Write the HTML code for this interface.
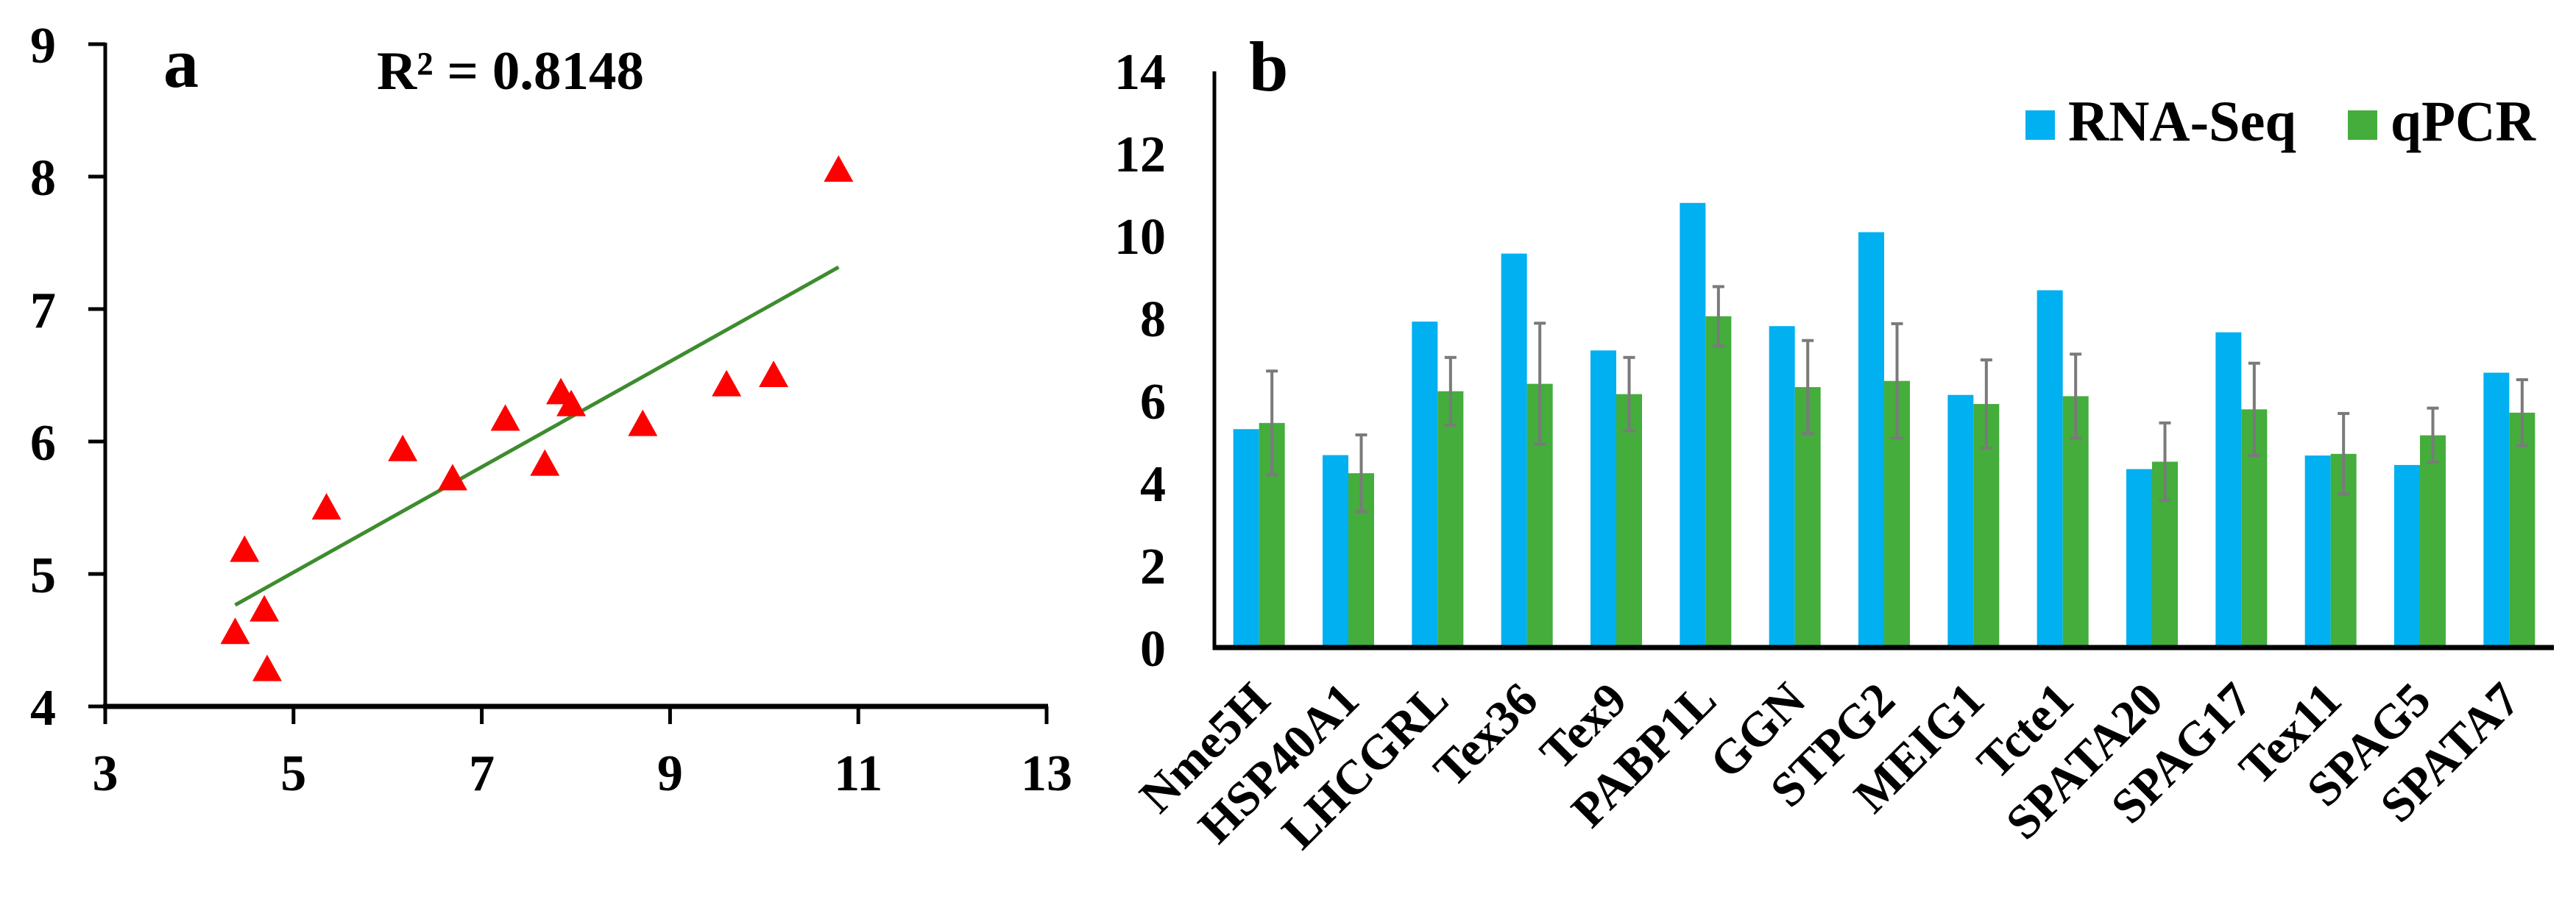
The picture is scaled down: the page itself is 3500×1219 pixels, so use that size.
<!DOCTYPE html>
<html><head><meta charset="utf-8">
<style>
html,body{margin:0;padding:0;background:#fff;}
svg, svg text{font-family:"Liberation Serif","Times New Roman",Times,serif !important;font-weight:bold;}
</style></head>
<body>
<svg id="chart" width="3500" height="1214" viewBox="0 0 3500 1214" xmlns="http://www.w3.org/2000/svg" font-family="Liberation Serif, serif" font-weight="bold">
<rect width="3500" height="1214" fill="#fff"/>
<g id="pa"></g>
<g id="pb"></g>
</svg>
<script>
// ---- Panel a data ----
const scatterX = [10.79, 9.6, 10.1, 8.71, 7.84, 7.95, 7.67, 7.25, 6.69, 6.16, 5.35, 4.48, 4.69, 4.38, 4.72];
const scatterY = [8.05, 6.43, 6.5, 6.13, 6.37, 6.28, 5.83, 6.17, 5.72, 5.94, 5.5, 5.18, 4.73, 4.56, 4.28];
const aXTicks = [3, 5, 7, 9, 11, 13];
const aYTicks = [4, 5, 6, 7, 8, 9];
const r2Label = "R² = 0.8148";
// ---- Panel b data ----
const genes = ["Nme5H","HSP40A1","LHCGRL","Tex36","Tex9","PABP1L","GGN","STPG2","MEIG1","Tcte1","SPATA20","SPAG17","Tex11","SPAG5","SPATA7"];
const rnaSeq = [5.30, 4.67, 7.91, 9.56, 7.21, 10.79, 7.80, 10.08, 6.13, 8.67, 4.33, 7.65, 4.66, 4.43, 6.67];
const qpcr = [5.45, 4.23, 6.22, 6.40, 6.15, 8.04, 6.32, 6.47, 5.91, 6.10, 4.51, 5.78, 4.70, 5.15, 5.70];
const qpcrErr = [1.26, 0.93, 0.82, 1.47, 0.89, 0.72, 1.13, 1.39, 1.07, 1.02, 0.94, 1.12, 0.98, 0.66, 0.80];
const bYTicks = [0, 2, 4, 6, 8, 10, 12, 14];

const NS = "http://www.w3.org/2000/svg";
function mk(parent, tag, attrs, text) {
  const e = document.createElementNS(NS, tag);
  for (const k in attrs) e.setAttribute(k, attrs[k]);
  if (text !== undefined) {
    e.setAttribute('font-family', 'Liberation Serif, serif');
    e.setAttribute('font-weight', 'bold');
    e.textContent = text;
  }
  parent.appendChild(e);
  return e;
}

// ===== Panel a =====
const pa = document.getElementById('pa');
const ax = v => 143 + (v - 3) * (1422 - 143) / 10;
const ay = v => 960 - (v - 4) * 180;
let e;
e = mk(pa, 'line', {x1:143, y1:58, x2:143, y2:963, stroke:'#000', 'stroke-width':5});


e = mk(pa, 'line', {x1:140, y1:960, x2:1424, y2:960, stroke:'#000', 'stroke-width':7});


aYTicks.forEach(t => {
  const y = ay(t);
  e = mk(pa, 'line', {x1:120, y1:y, x2:143, y2:y, stroke:'#000', 'stroke-width':5});
  
  
  e = mk(pa, 'text', {x:76, y:y + 25, 'text-anchor':'end', 'font-size':70}, String(t));
  
  
});
aXTicks.forEach(t => {
  const x = ax(t);
  e = mk(pa, 'line', {x1:x, y1:960, x2:x, y2:984, stroke:'#000', 'stroke-width':5});
  
  
  e = mk(pa, 'text', {x:x, y:1074, 'text-anchor':'middle', 'font-size':70}, String(t));
  
  
});
e = mk(pa, 'text', {x:222, y:118, 'font-size':96}, 'a');


e = mk(pa, 'text', {x:512, y:121, 'font-size':74, textLength:363, lengthAdjust:'spacingAndGlyphs'}, r2Label);


// regression
const n = scatterX.length;
const mx = scatterX.reduce((a,b)=>a+b,0)/n, my = scatterY.reduce((a,b)=>a+b,0)/n;
let sxy = 0, sxx = 0;
for (let i = 0; i < n; i++) { sxy += (scatterX[i]-mx)*(scatterY[i]-my); sxx += (scatterX[i]-mx)**2; }
const slope = sxy / sxx, icpt = my - slope * mx;
const xmin = Math.min(...scatterX), xmax = Math.max(...scatterX);
e = mk(pa, 'line', {x1:ax(xmin), y1:ay(icpt + slope*xmin), x2:ax(xmax), y2:ay(icpt + slope*xmax), stroke:'#3d8c2e', 'stroke-width':5});


for (let i = 0; i < n; i++) {
  const cx = ax(scatterX[i]), cy = ay(scatterY[i]);
  e = mk(pa, 'polygon', {points:`${cx},${cy-20} ${cx-20},${cy+16} ${cx+20},${cy+16}`, fill:'#ff0000'});
  
  
}

// ===== Panel b =====
const pb = document.getElementById('pb');
const bx0 = 1650, bx1 = 3470;
const cw = (bx1 - bx0) / genes.length;
const by = v => 880 - v * 56;
const bw = 35;
e = mk(pb, 'line', {x1:bx0, y1:97, x2:bx0, y2:883, stroke:'#000', 'stroke-width':5});


bYTicks.forEach(t => {
  e = mk(pb, 'text', {x:1584, y:by(t) + 25, 'text-anchor':'end', 'font-size':70}, String(t));
  
  
});
genes.forEach((g, i) => {
  const c = bx0 + cw * (i + 0.5);
  e = mk(pb, 'rect', {x:c - bw, y:by(rnaSeq[i]), width:bw, height:by(0) - by(rnaSeq[i]), fill:'#00b0f0'});
  
  
  e = mk(pb, 'rect', {x:c, y:by(qpcr[i]), width:bw, height:by(0) - by(qpcr[i]), fill:'#44ad3c'});
  
  
  const ex = c + bw / 2;
  const yt = by(qpcr[i] + qpcrErr[i]), yb = by(qpcr[i] - qpcrErr[i]);
  e = mk(pb, 'path', {d:`M${ex},${yt}V${yb}M${ex-8},${yt}H${ex+8}M${ex-8},${yb}H${ex+8}`, stroke:'#7a7a7a', 'stroke-width':4, fill:'none'});
  
  
  const lx = c + 18, ly = 955;
  e = mk(pb, 'text', {x:lx, y:ly, 'text-anchor':'end', 'font-size':66, transform:`rotate(-45 ${lx} ${ly})`}, g);
  
  
});
e = mk(pb, 'line', {x1:bx0 - 2, y1:880, x2:bx1, y2:880, stroke:'#000', 'stroke-width':7});


e = mk(pb, 'text', {x:1697, y:123, 'font-size':96}, 'b');


e = mk(pb, 'rect', {x:2752, y:150, width:40, height:40, fill:'#00b0f0'});


e = mk(pb, 'text', {x:2810, y:191, 'font-size':78, textLength:310, lengthAdjust:'spacingAndGlyphs'}, 'RNA-Seq');


e = mk(pb, 'rect', {x:3190, y:150, width:40, height:40, fill:'#44ad3c'});


e = mk(pb, 'text', {x:3248, y:191, 'font-size':78, textLength:197, lengthAdjust:'spacingAndGlyphs'}, 'qPCR');


</script>
</body></html>
